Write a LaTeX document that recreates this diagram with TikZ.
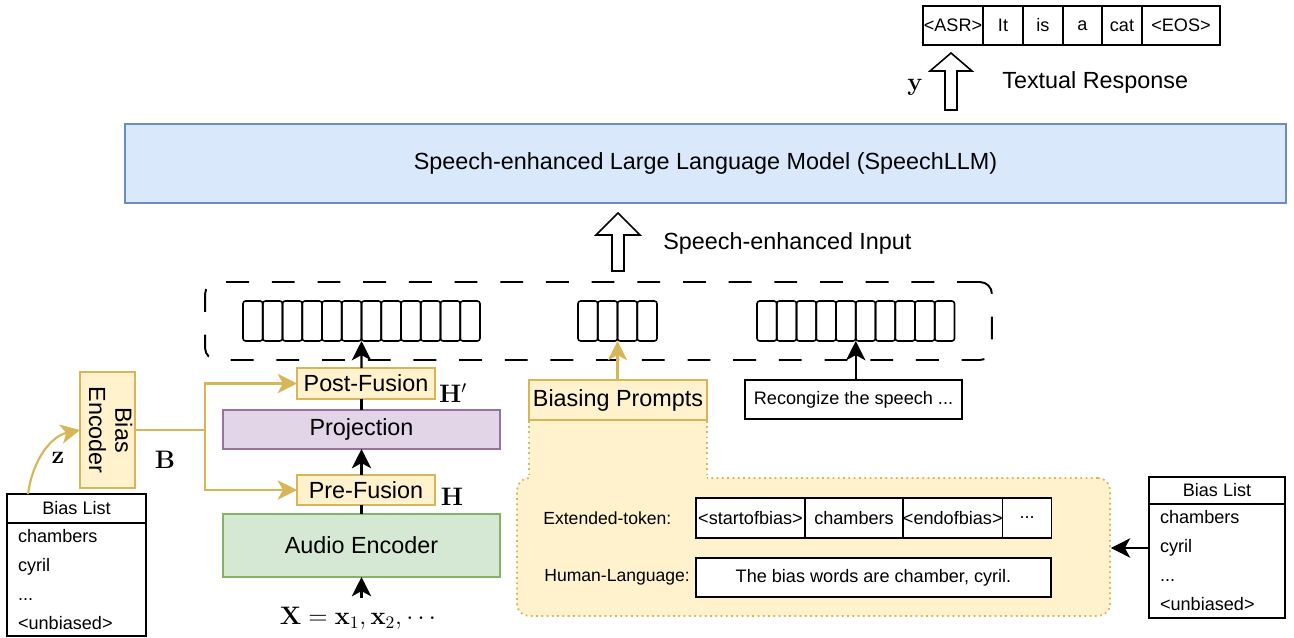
\documentclass[tikz,border=0pt]{standalone}
\usepackage{amsmath,amssymb}
\usepackage[no-math]{fontspec}
\setmainfont{Liberation Sans}
\usepackage{graphicx}
\usepackage{tikz}
\usetikzlibrary{positioning,calc,arrows.meta}
\definecolor{llmblue}{HTML}{DAE8FC}
\definecolor{llmedge}{HTML}{6C8EBF}
\definecolor{fuseyellow}{HTML}{FFF2CC}
\definecolor{fuseedge}{HTML}{D6B656}
\definecolor{projpurple}{HTML}{E1D5E7}
\definecolor{projedge}{HTML}{9673A6}
\definecolor{encgreen}{HTML}{D5E8D4}
\definecolor{encedge}{HTML}{82B366}
\newcommand{\bigtxt}{\fontsize{13.3}{16}\selectfont}
\newcommand{\smalltxt}{\fontsize{10.3}{12.4}\selectfont}
\newcommand{\labeltxt}{\fontsize{10}{12}\selectfont}
\newcommand{\listtxt}{\fontsize{10.3}{16.5}\selectfont}
\newcommand{\mathtxt}{\fontsize{14}{16}\selectfont}

\begin{document}
\begin{tikzpicture}[x=0.02cm,y=-0.02cm,
  block/.style={rectangle,draw,line width=0.9pt,inner sep=0pt,outer sep=0pt,align=center,font=\bigtxt},
  fuse/.style={block,fill=fuseyellow,draw=fuseedge},
  tok/.style={rectangle,draw,line width=0.9pt,inner sep=0pt,outer sep=0pt,minimum height=0.78cm,font=\smalltxt},
  cell/.style={rectangle,draw,line width=0.9pt,rounded corners=1.5pt,minimum width=0.395cm,minimum height=0.8cm,inner sep=0pt,outer sep=0pt},
  listhead/.style={tok,minimum width=2.78cm,minimum height=0.58cm},
  listbody/.style={rectangle,draw,line width=0.9pt,inner sep=0pt,outer sep=0pt,minimum width=2.78cm,text width=2.34cm,align=left,font=\listtxt},
  arrow/.style={-{Stealth[length=11pt,width=11pt,inset=3pt]},line width=1.2pt},
  yarrow/.style={arrow,draw=fuseedge},
  hollow/.style={draw,line width=0.9pt,fill=white,line join=miter},
  lbl/.style={font=\bigtxt,inner sep=0pt},
  mlbl/.style={font=\mathtxt,inner sep=0pt}
]
\useasboundingbox (0,0) rectangle (1294,637);
\fill[white] (0,0) rectangle (1294,637);

\node[block,fill=llmblue,draw=llmedge,minimum width=23.22cm,minimum height=1.58cm] (llm) at (705.5,163.5) {Speech-enhanced Large Language Model (SpeechLLM)};

\node[tok,minimum width=1.2cm] (tasr) at (953,25.5) {<ASR>};
\node[tok,minimum width=0.8cm,right=0pt of tasr] (tit) {It};
\node[tok,minimum width=0.8cm,right=0pt of tit] (tis) {is};
\node[tok,minimum width=0.78cm,right=0pt of tis] (ta) {a};
\node[tok,minimum width=0.8cm,right=0pt of ta] (tcat) {cat};
\node[tok,minimum width=1.56cm,right=0pt of tcat] (teos) {<EOS>};

\draw[hollow] (945,110) -- (945,71) -- (930,71) -- (951,53) -- (972,71) -- (957,71) -- (957,110) -- cycle;
\node[mlbl] (ylbl) at (915,87) {$\mathbf{y}$};
\node[lbl,anchor=west] (resp) at (1002,82) {Textual Response};

\draw[hollow] (612,271) -- (612,235) -- (596,235) -- (618,213) -- (640,235) -- (624,235) -- (624,271) -- cycle;
\node[lbl,anchor=west] (seinput) at (663,243) {Speech-enhanced Input};

\node[draw,line width=1.1pt,dash pattern=on 13pt off 13pt,rounded corners=0.24cm,minimum width=15.74cm,minimum height=1.56cm] (inbox) at (598.5,321) {};
\foreach \i in {1,...,12} \node[cell] (ca\i) at ({243+(\i-0.5)*19.75},321) {};
\foreach \i in {1,...,4} \node[cell] (cb\i) at ({578+(\i-0.5)*19.75},321) {};
\foreach \i in {1,...,10} \node[cell] (cc\i) at ({757+(\i-0.5)*19.75},321) {};

\node[fuse,minimum width=2.76cm,minimum height=0.62cm] (postfus) at (366,383.5) {Post-Fusion};
\node[block,fill=projpurple,draw=projedge,minimum width=5.54cm,minimum height=0.78cm] (proj) at (361.5,429.5) {Projection};
\node[fuse,minimum width=2.76cm,minimum height=0.6cm] (prefus) at (366,490) {Pre-Fusion};
\node[block,fill=encgreen,draw=encedge,minimum width=5.54cm,minimum height=1.26cm] (audio) at (361.5,545.5) {Audio Encoder};
\node[mlbl] (hpost) at (453,393) {$\mathbf{H}'$};
\node[mlbl] (hpre) at (452,497) {$\mathbf{H}$};
\node[mlbl] (xin) at (360,618) {$\mathbf{X}=\mathbf{x}_1,\mathbf{x}_2,\cdots$};

\draw[arrow] ([yshift=5pt]audio.south |- xin.north) -- (audio.south);
\draw[line width=1.2pt] (audio.north) -- (audio.north |- prefus.south);
\draw[arrow] (audio.north |- prefus.north) -- (proj.south);
\draw[line width=1.2pt] (proj.north) -- (proj.north |- postfus.south);
\draw[arrow] (proj.north |- postfus.north) -- (ca6.south east);

\node[fuse,minimum width=1.1cm,minimum height=2.32cm] (biasenc) at (107.5,430) {\rotatebox{-90}{\fontsize{13.3}{15}\selectfont\begin{tabular}{@{}c@{}}Bias\\Encoder\end{tabular}}};
\coordinate (split) at (205,430);
\draw[line width=1.2pt,draw=fuseedge] (biasenc.east) -- (split);
\draw[yarrow] (split) |- (postfus.west);
\draw[yarrow] (split) |- (prefus.west);
\node[mlbl] (blbl) at (165,460) {$\mathbf{B}$};

\node[listhead] (blistLh) at (76.5,508.5) {Bias List};
\node[listbody,minimum height=2.26cm,below=0pt of blistLh] (blistLb) {chambers\\cyril\\...\\<unbiased>};
\draw[yarrow] ($(blistLh.north west)+(21,0)$) .. controls (33,458) and (52,436) .. (biasenc.west);
\node[mlbl] (zlbl) at (58,458) {$\mathbf{z}$};

\node[fuse,minimum width=3.56cm,minimum height=0.8cm] (bprompt) at (618,400) {Biasing Prompts};
\node[rectangle,fill=fuseyellow,draw=fuseedge,line width=1pt,dotted,rounded corners=0.24cm,minimum width=11.86cm,minimum height=2.76cm] (promptbg) at (813.5,547) {};
\fill[fuseyellow] ($(bprompt.south west)+(0,0.8)$) rectangle ($(bprompt.south east |- promptbg.north)+(0,1.5)$);
\draw[draw=fuseedge,line width=1pt,dotted] ($(bprompt.south west)+(0,0.8)$) -- (bprompt.south west |- promptbg.north);
\draw[draw=fuseedge,line width=1pt,dotted] ($(bprompt.south east)+(0,0.8)$) -- (bprompt.south east |- promptbg.north);
\draw[yarrow] (cb2.south east |- bprompt.north) -- (cb2.south east);

\node[block,font=\smalltxt,minimum width=4.34cm,minimum height=0.78cm] (recog) at (853.5,399.5) {Recongize the speech ...};
\draw[arrow] (cc5.south east |- recog.north) -- (cc5.south east);

\node[tok,fill=white,minimum width=2.18cm,minimum height=0.8cm] (ext1) at (750.5,518) {<startofbias>};
\node[tok,fill=white,minimum width=1.96cm,minimum height=0.8cm,right=0pt of ext1] (ext2) {chambers};
\node[tok,fill=white,minimum width=1.98cm,minimum height=0.8cm,right=0pt of ext2] (ext3) {<endofbias>};
\node[tok,fill=white,minimum width=0.98cm,minimum height=0.8cm,right=0pt of ext3] (ext4) {...};
\node[tok,fill=white,minimum width=7.1cm,minimum height=0.78cm] (human) at (873.5,577.5) {The bias words are chamber, cyril.};
\node[font=\labeltxt,anchor=west,inner sep=0pt] (extlbl) at (543,518) {Extended-token:};
\node[font=\labeltxt,anchor=west,inner sep=0pt] (humlbl) at (544,577) {Human-Language:};

\node[listhead,minimum width=2.72cm,minimum height=0.54cm] (blistRh) at (1217,490.5) {Bias List};
\node[listbody,minimum width=2.72cm,text width=2.28cm,minimum height=2.28cm,below=0pt of blistRh] (blistRb) {chambers\\cyril\\...\\<unbiased>};
\coordinate (cyrilpt) at ($(blistRb.west)+(0,-13)$);
\draw[arrow] (cyrilpt) -- (promptbg.east |- cyrilpt);
\end{tikzpicture}
\end{document}
